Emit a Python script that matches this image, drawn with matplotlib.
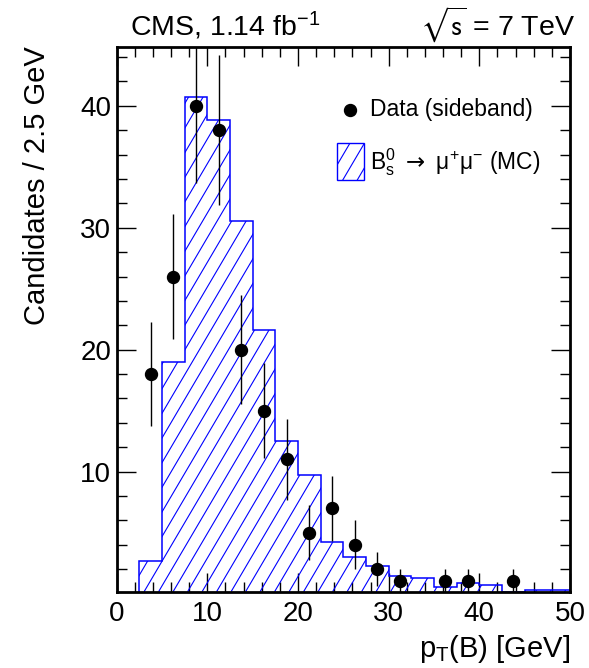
import numpy as np
import matplotlib
matplotlib.use("Agg")
import matplotlib.pyplot as plt
from matplotlib.collections import LineCollection
from matplotlib.patches import Rectangle
from matplotlib.ticker import MultipleLocator

# -----------------------------
# fonts
# -----------------------------
plt.rcParams['font.family'] = ['Liberation Sans', 'DejaVu Sans']
plt.rcParams['mathtext.fontset'] = 'custom'
plt.rcParams['mathtext.rm'] = 'Liberation Sans'
plt.rcParams['mathtext.it'] = 'Liberation Sans:italic'
plt.rcParams['mathtext.bf'] = 'Liberation Sans:bold'

# -----------------------------
# data
# -----------------------------
bin_edges = np.linspace(0, 50, 21)   # 2.5 GeV bins

# MC Bs -> mu mu, normalised to the data
mc_counts = [0.0, 2.7, 19.0, 40.7, 38.8, 30.55, 21.6, 12.5, 9.7, 4.2,
             3.0, 2.27, 1.45, 1.26, 0.5, 0.85, 0.7, 0.1, 0.25, 0.25]

# sideband data, one entry per bin
data_counts = [0, 18, 26, 40, 38, 20, 15, 11, 5, 7,
               4, 2, 1, 0, 1, 1, 0, 1, 0, 0]
data_errors = [0.0, 4.24, 5.1, 6.32, 6.16, 4.47, 3.87, 3.32, 2.24, 2.65,
               2.0, 1.41, 1.0, 0.0, 1.0, 1.0, 0.0, 1.0, 0.0, 0.0]

BLUE = '#0000ff'


def add_hatch(ax, clip, spacing_px=14.5, slope_px=1.7, **kw):
    # ROOT style hatching: steeper than matplotlib's 45 degrees
    fig = ax.figure
    bb = ax.get_position()
    w_px = bb.width * fig.get_figwidth() * fig.dpi
    h_px = bb.height * fig.get_figheight() * fig.dpi
    k = slope_px * w_px / h_px
    step = spacing_px / w_px
    starts = np.arange(-1.0 / k - step, 1.0 + step, step)
    segs = [[(c, 0.0), (c + 1.0 / k, 1.0)] for c in starts]
    lc = LineCollection(segs, transform=ax.transAxes, **kw)
    ax.add_collection(lc, autolim=False)
    lc.set_clip_path(clip)
    return lc


fig = plt.figure(figsize=(5.89, 6.68), dpi=100)
ax = fig.add_axes([0.1981, 0.1142, 0.7696, 0.8159])

# MC histogram
hist = ax.stairs(mc_counts, bin_edges, fill=True, facecolor='none',
                 edgecolor=BLUE, linewidth=1.1, zorder=2)
add_hatch(ax, hist, color=BLUE, linewidth=0.8, zorder=2)

# data points
centers = 0.5 * (bin_edges[:-1] + bin_edges[1:])
counts = np.array(data_counts, dtype=float)
errs = np.array(data_errors)
keep = counts > 0
ax.errorbar(centers[keep], counts[keep], yerr=errs[keep], fmt='o',
            color='black', markersize=8.6, elinewidth=1.0, capsize=0,
            zorder=4)

# axes
ax.set_xlim(0, 50)
ax.set_ylim(0.15, 44.85)
ax.set_xticks(np.arange(0, 51, 10))
ax.set_yticks([10, 20, 30, 40])
ax.xaxis.set_minor_locator(MultipleLocator(2))
ax.yaxis.set_minor_locator(MultipleLocator(2))
ax.tick_params(which='both', direction='in', top=True, right=True,
               width=1.0, labelsize=20)
ax.tick_params(which='major', length=14)
ax.tick_params(which='minor', length=7)
ax.tick_params(axis='x', pad=7)
ax.tick_params(axis='y', pad=4)
for sp in ax.spines.values():
    sp.set_linewidth(2)

ax.set_xlabel(r'p$\mathregular{_T}$(B) [GeV]', fontsize=21, loc='right')
ax.xaxis.set_label_coords(1.0, -0.075)
ax.set_ylabel('Candidates / 2.5 GeV', fontsize=21, loc='top')
ax.yaxis.set_label_coords(-0.145, 1.0)

# header
fig.text(0.2207, 0.9461, r'CMS, 1.14 fb$\mathregular{^{-1}}$', fontsize=20.5,
         ha='left', va='baseline')
fig.text(0.976, 0.9461, r'$\sqrt{\mathrm{s}}$ = 7 TeV', fontsize=20.5,
         ha='right', va='baseline', math_fontfamily='stixsans')

# legend drawn by hand so the hatch matches the histogram
ax.plot([0.5147], [0.8839], 'o', color='black', markersize=8.6,
        transform=ax.transAxes, clip_on=False)
ax.text(0.5588, 0.8839, 'Data (sideband)', fontsize=16.5,
        transform=ax.transAxes, va='center', ha='left')
box = Rectangle((0.4853, 0.7554), 0.0609, 0.0674, transform=ax.transAxes,
                facecolor='none', edgecolor=BLUE, linewidth=1.0)
ax.add_patch(box)
add_hatch(ax, box, color=BLUE, linewidth=0.8)
ax.text(0.5588, 0.789,
        r'B$\mathregular{_s^0}$ $\rightarrow$ μ$\mathregular{^{+}}$μ$\mathregular{^{-}}$ (MC)',
        fontsize=16.5, transform=ax.transAxes, va='center', ha='left',
        math_fontfamily='dejavusans')

fig.savefig('out.png', dpi=100)
